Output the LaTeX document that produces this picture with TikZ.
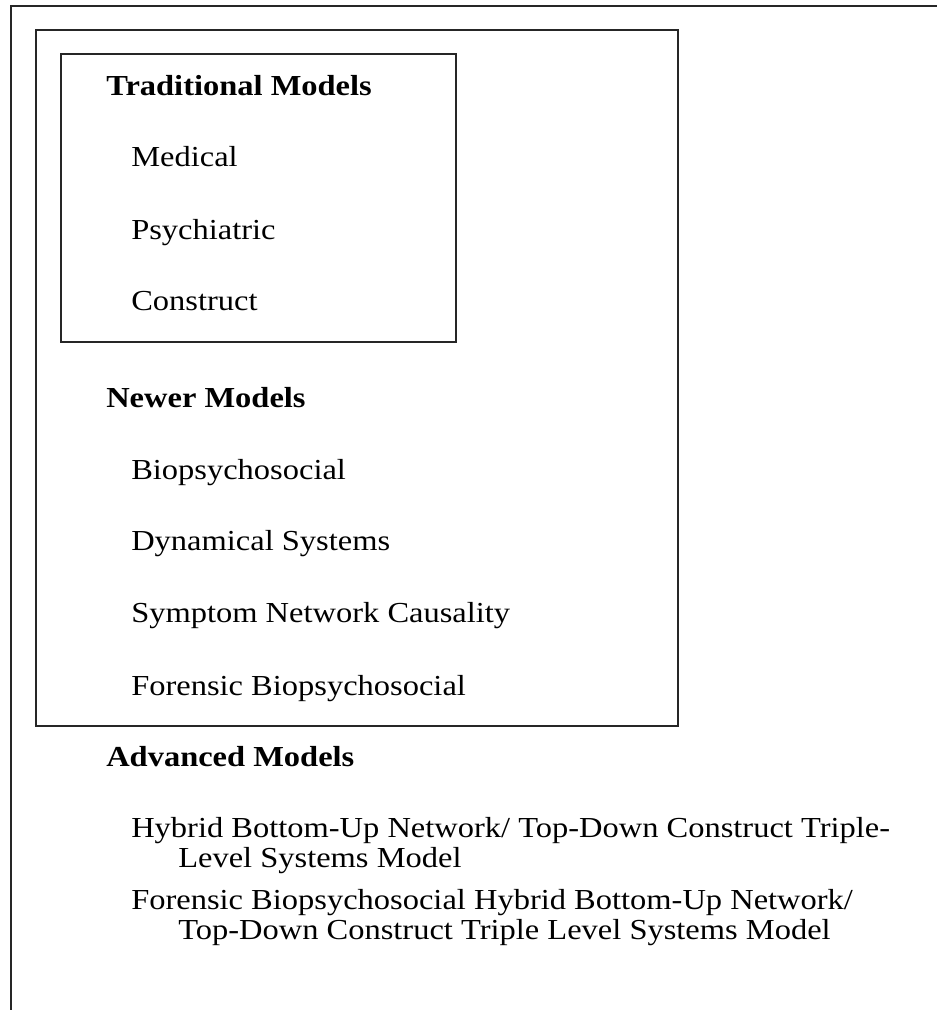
\documentclass[tikz,border=0pt]{standalone}
\usepackage{fontspec}
\setmainfont{Liberation Serif}[FakeStretch=1.12]
\begin{document}
\begin{tikzpicture}[x=0.75pt,y=-0.75pt,
  frame/.style={draw=black!85,line width=1.2pt},
  heading/.style={anchor=base west,inner sep=0pt,font=\fontsize{21.75}{22.5}\selectfont\bfseries},
  entry/.style={anchor=base west,inner sep=0pt,align=left,font=\fontsize{21.75}{22.5}\selectfont}]
\useasboundingbox (0,0) rectangle (936,1010);
\fill[white] (0,0) rectangle (936,1010);

% outer frame, running off the page on the right and at the bottom
\draw[frame] (11,1012) -- (11,6) -- (938,6);
% frame round the traditional and newer models
\draw[frame] (36,30) rectangle (678,726);
% frame round the traditional models
\draw[frame] (61,54) rectangle (456,342);

% traditional models
\node[heading] (trad) at (106,95) {Traditional Models};
\node[entry] (medical) at (131,166) {Medical};
\node[entry] (psych) at (131,239) {Psychiatric};
\node[entry] (construct) at (131,310) {Construct};

% newer models
\node[heading] (newer) at (106,407) {Newer Models};
\node[entry] (biopsy) at (131,479) {Biopsychosocial};
\node[entry] (dynamic) at (131,550) {Dynamical Systems};
\node[entry] (network) at (131,622) {Symptom Network Causality};
\node[entry] (forensic) at (131,695) {Forensic Biopsychosocial};

% advanced models (two-line entries sit on the baseline of their last line)
\node[heading] (advanced) at (106,766) {Advanced Models};
\node[entry] (hybrid) at (131,867) {Hybrid Bottom-Up Network/ Top-Down Construct Triple-\\\hspace*{35.25pt}Level Systems Model};
\node[entry] (forhybrid) at (131,939) {Forensic Biopsychosocial Hybrid Bottom-Up Network/\\\hspace*{35.25pt}Top-Down Construct Triple Level Systems Model};
\end{tikzpicture}
\end{document}
